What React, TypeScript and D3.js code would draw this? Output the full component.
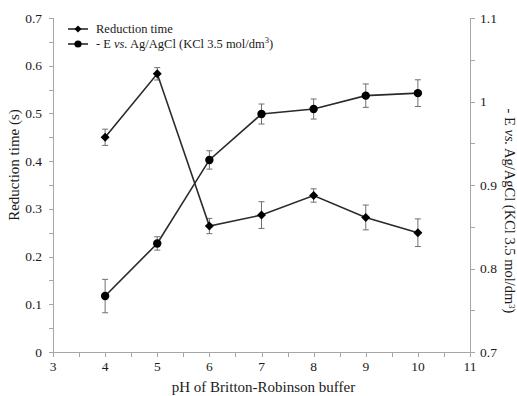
import React from "react";
import * as d3 from "d3";

const pH = [4, 5, 6, 7, 8, 9, 10];
const reductionTime = [0.45, 0.583, 0.264, 0.287, 0.328, 0.282, 0.25];
const reductionErr = [0.017, 0.013, 0.016, 0.028, 0.014, 0.026, 0.029];
const potential = [0.767, 0.83, 0.93, 0.985, 0.991, 1.007, 1.01];
const potentialErr = [0.02, 0.008, 0.011, 0.012, 0.012, 0.014, 0.016];
const xTicks = [3, 4, 5, 6, 7, 8, 9, 10, 11];
const leftTicks = [0, 0.1, 0.2, 0.3, 0.4, 0.5, 0.6, 0.7];
const rightTicks = [0.7, 0.8, 0.9, 1.0, 1.1];

const W = 517;
const H = 396;
const L = 53, R = 470, T = 18, B = 352;
const FONT = "'Liberation Serif', 'Times New Roman', serif";
const AX = "#a6a6a6";
const TXT = "#1a1a1a";

export default function App() {
  const x = d3.scaleLinear().domain([3, 11]).range([L, R]);
  const yL = d3.scaleLinear().domain([0, 0.7]).range([B, T]);
  const yR = d3.scaleLinear().domain([0.7, 1.1]).range([B, T]);

  const line = (ys: number[], s: d3.ScaleLinear<number, number>) =>
    d3.line<number>().x((_, i) => x(pH[i])).y((d) => s(d))(ys) as string;

  const xMinor = d3.range(3, 11.01, 0.5);
  const lMinor = d3.range(0, 0.7001, 0.05);
  const rMinor = d3.range(0.7, 1.1001, 0.05);

  const errBars = (vals: number[], errs: number[], s: d3.ScaleLinear<number, number>, key: string) =>
    vals.map((v, i) => {
      const cx = x(pH[i]);
      const y1 = s(v + errs[i]);
      const y2 = s(v - errs[i]);
      return (
        <g key={key + i} stroke="#707070" strokeWidth={1}>
          <line x1={cx} x2={cx} y1={y1} y2={y2} />
          <line x1={cx - 3} x2={cx + 3} y1={y1} y2={y1} />
          <line x1={cx - 3} x2={cx + 3} y1={y2} y2={y2} />
        </g>
      );
    });

  const diamond = (cx: number, cy: number, r = 4.5) =>
    `M${cx},${cy - r}L${cx + r},${cy}L${cx},${cy + r}L${cx - r},${cy}Z`;

  return (
    <svg width={W} height={H} style={{ position: "absolute", left: 0, top: 0, background: "#fff" }} fontFamily={FONT}>
      {/* axes */}
      <g stroke={AX} strokeWidth={1} fill="none">
        <line x1={L} x2={R} y1={B + 0.5} y2={B + 0.5} />
        <line x1={L + 0.5} x2={L + 0.5} y1={T} y2={B} />
        <line x1={R + 0.5} x2={R + 0.5} y1={T} y2={B} />
        {xMinor.map((v) => (
          <line key={"xm" + v} x1={Math.round(x(v)) + 0.5} x2={Math.round(x(v)) + 0.5} y1={B} y2={B + 5} />
        ))}
        {lMinor.map((v) => (
          <line key={"lm" + v} x1={L - 4} x2={L} y1={Math.round(yL(v)) + 0.5} y2={Math.round(yL(v)) + 0.5} />
        ))}
        {rMinor.map((v) => (
          <line key={"rm" + v} x1={R} x2={R + 5} y1={Math.round(yR(v)) + 0.5} y2={Math.round(yR(v)) + 0.5} />
        ))}
      </g>
      {/* tick labels */}
      <g fontSize={13.5} fill={TXT}>
        {xTicks.map((v) => (
          <text key={"xt" + v} x={x(v)} y={B + 19} textAnchor="middle">{v}</text>
        ))}
        {leftTicks.map((v) => (
          <text key={"lt" + v} x={L - 11} y={yL(v) + 4.5} textAnchor="end">{v === 0 ? "0" : v.toFixed(1)}</text>
        ))}
        {rightTicks.map((v) => (
          <text key={"rt" + v} x={R + 10} y={yR(v) + 4.5} textAnchor="start">{Math.abs(v - 1) < 1e-9 ? "1" : v.toFixed(1)}</text>
        ))}
      </g>
      {/* axis titles */}
      <text x={(L + R) / 2 + 2} y={392} fontSize={15} textAnchor="middle" fill={TXT}>pH of Britton-Robinson  buffer</text>
      <text transform={`translate(19,165) rotate(-90)`} fontSize={15} textAnchor="middle" fill={TXT}>Reduction time (s)</text>
      <text transform={`translate(504.5,211) rotate(90)`} fontSize={14.5} textAnchor="middle" fill={TXT}>
        - E <tspan fontStyle="italic">vs.</tspan> Ag/AgCl  (KCl 3.5 mol/dm<tspan fontSize={8.5} dy={-4}>3</tspan><tspan dy={4}>)</tspan>
      </text>
      {/* error bars */}
      {errBars(reductionTime, reductionErr, yL, "re")}
      {errBars(potential, potentialErr, yR, "pe")}
      {/* lines */}
      <path d={line(reductionTime, yL)} fill="none" stroke="#2a2a2a" strokeWidth={1.6} />
      <path d={line(potential, yR)} fill="none" stroke="#2a2a2a" strokeWidth={1.6} />
      {/* markers */}
      {reductionTime.map((v, i) => (
        <path key={"rd" + i} d={diamond(x(pH[i]), yL(v))} fill="#000" />
      ))}
      {potential.map((v, i) => (
        <circle key={"pc" + i} cx={x(pH[i])} cy={yR(v)} r={4.2} fill="#000" />
      ))}
      {/* legend */}
      <g>
        <line x1={68} x2={88} y1={29} y2={29} stroke="#2a2a2a" strokeWidth={1.6} />
        <path d={diamond(78, 29, 3.5)} fill="#000" />
        <text x={96} y={33} fontSize={12.5} fill={TXT}>Reduction time</text>
        <line x1={68} x2={88} y1={44} y2={44} stroke="#2a2a2a" strokeWidth={1.6} />
        <circle cx={78} cy={44} r={3.6} fill="#000" />
        <text x={96} y={48} fontSize={12.5} fill={TXT}>
          - E <tspan fontStyle="italic">vs.</tspan> Ag/AgCl (KCl 3.5 mol/dm<tspan fontSize={8.5} dy={-5}>3</tspan><tspan dy={5}>)</tspan>
        </text>
      </g>
    </svg>
  );
}
